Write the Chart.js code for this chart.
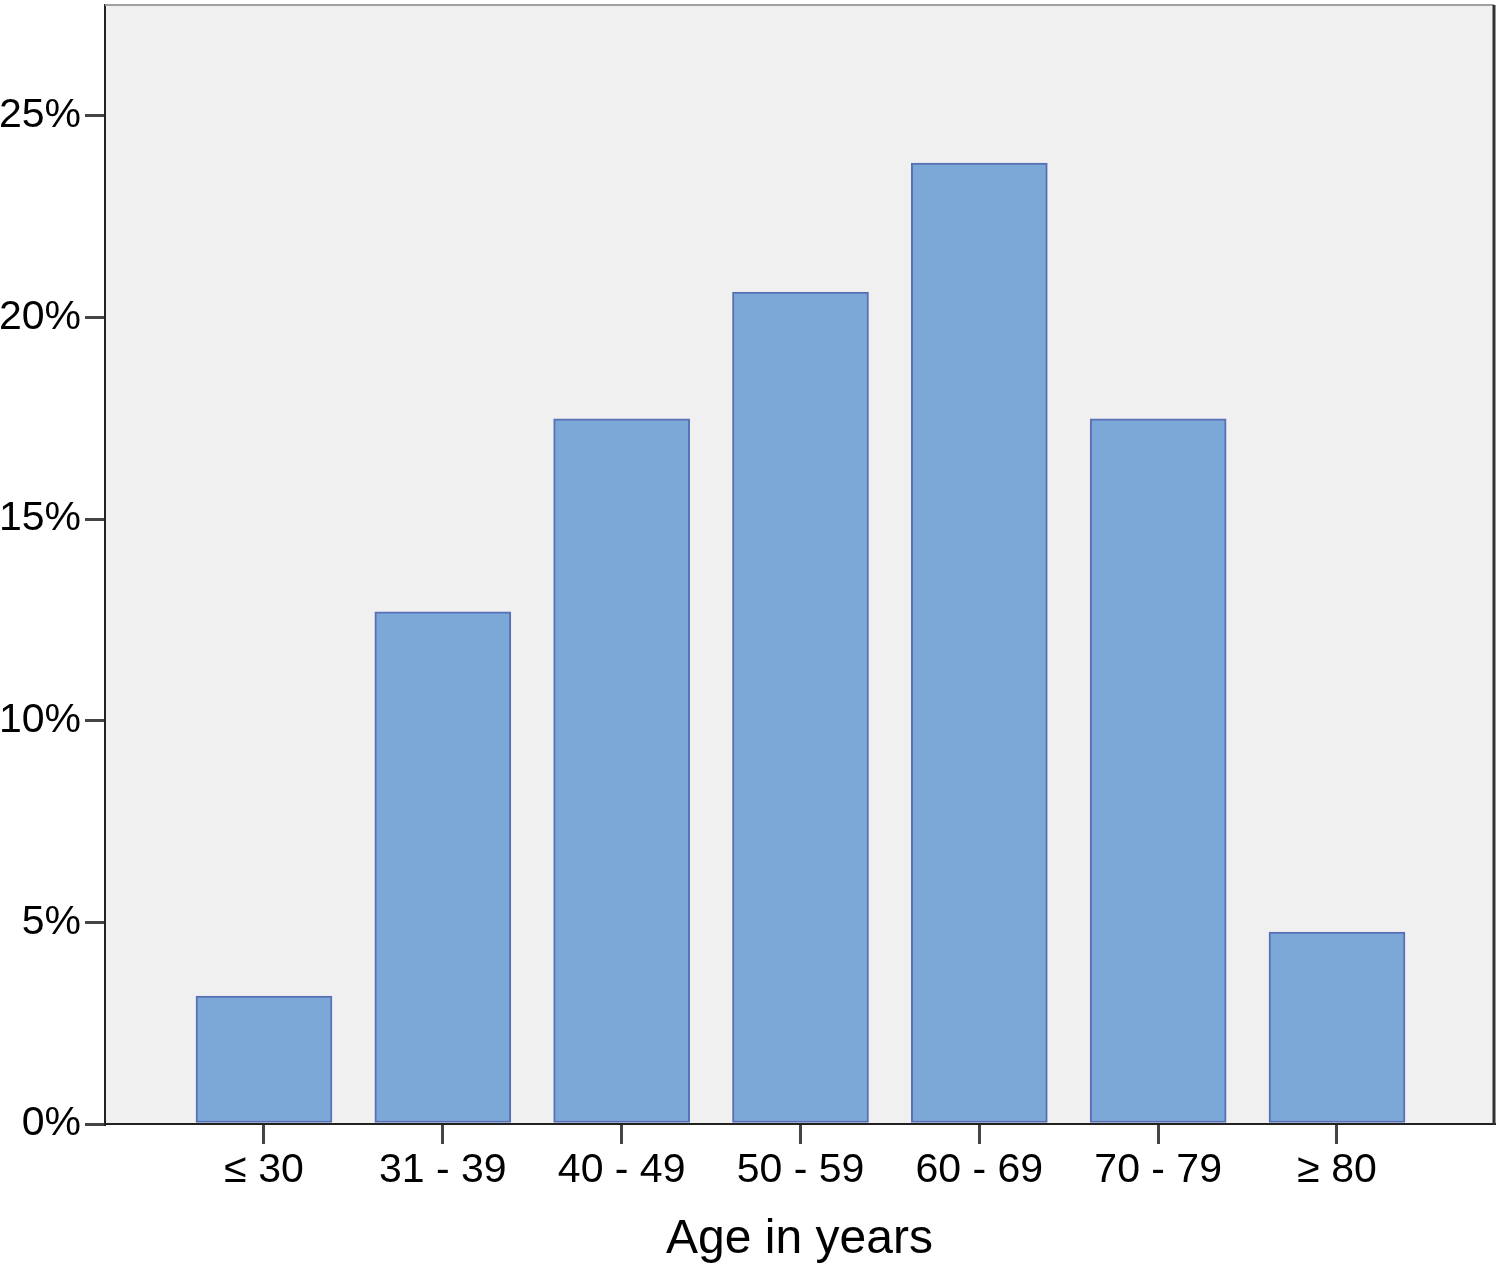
<!DOCTYPE html>
<html>
<head>
<meta charset="utf-8">
<script src="https://cdn.jsdelivr.net/npm/chart.js@4/dist/chart.umd.min.js"></script>
<style>
  html, body { margin: 0; padding: 0; background: #ffffff; }
  #wrap { width: 1502px; height: 1281px; }
</style>
</head>
<body>
<div id="wrap"><canvas id="c" width="1502" height="1281"></canvas></div>
<script>
const categories = ['≤ 30', '31 - 39', '40 - 49', '50 - 59', '60 - 69', '70 - 79', '≥ 80'];
const percentValues = [3.17, 12.70, 17.49, 20.63, 23.83, 17.49, 4.76];
const yTickValues = [0, 5, 10, 15, 20, 25];
const xAxisTitle = 'Age in years';

const FONT = '"Liberation Sans", Arial, Helvetica, sans-serif';

const plotFrame = {
  id: 'plotFrame',
  beforeDraw(chart) {
    const { ctx, chartArea: a } = chart;
    ctx.save();
    ctx.fillStyle = '#f0f0f0';
    ctx.fillRect(a.left, a.top, a.right - a.left, a.bottom - a.top);
    ctx.restore();
  },
  afterDraw(chart) {
    const { ctx, chartArea: a } = chart;
    ctx.save();
    ctx.strokeStyle = '#a0a0a0';
    ctx.lineWidth = 2;
    ctx.beginPath();
    ctx.moveTo(a.left, a.top);
    ctx.lineTo(a.right, a.top);
    ctx.stroke();
    ctx.strokeStyle = '#333333';
    ctx.lineWidth = 3;
    ctx.beginPath();
    ctx.moveTo(a.right, a.top);
    ctx.lineTo(a.right, a.bottom);
    ctx.stroke();
    ctx.restore();
  }
};

new Chart(document.getElementById('c'), {
  type: 'bar',
  data: {
    datasets: [{
      data: percentValues.map((v, i) => ({ x: i, y: v })),
      backgroundColor: '#7ba8d6',
      borderColor: '#5870b6',
      borderWidth: 2,
      borderSkipped: false,
      barThickness: 136
    }]
  },
  options: {
    responsive: false,
    animation: false,
    layout: { padding: { top: 5, right: 8, left: 0, bottom: 0 } },
    plugins: { legend: { display: false }, tooltip: { enabled: false } },
    scales: {
      x: {
        type: 'linear',
        min: -0.889,
        max: 6.878,
        offset: false,
        afterFit(scale) { scale.height = 157; scale.paddingLeft = 0; scale.paddingRight = 0; },
        afterBuildTicks(scale) { scale.ticks = categories.map((c, i) => ({ value: i })); },
        grid: { offset: false, drawOnChartArea: false, drawTicks: true, tickLength: 20, color: '#444444', lineWidth: 3 },
        border: { display: true, color: '#222222', width: 2 },
        ticks: {
          autoSkip: false,
          maxRotation: 0,
          padding: 2,
          color: '#000000',
          font: { family: FONT, size: 41 },
          callback: (v) => categories[v] ?? ''
        },
        title: {
          display: true,
          text: xAxisTitle,
          color: '#000000',
          font: { family: FONT, size: 48 },
          padding: { top: 0, bottom: 12 }
        }
      },
      y: {
        min: 0,
        max: 27.75,
        afterFit(scale) { scale.width = 105; scale.paddingTop = 0; scale.paddingBottom = 0; },
        afterBuildTicks(scale) { scale.ticks = yTickValues.map(v => ({ value: v })); },
        grid: { drawOnChartArea: false, drawTicks: true, tickLength: 20, color: '#444444', lineWidth: 3 },
        border: { display: true, color: '#222222', width: 2 },
        ticks: {
          padding: 4,
          color: '#000000',
          font: { family: FONT, size: 41 },
          callback: (v) => v + '%'
        }
      }
    }
  },
  plugins: [plotFrame]
});
</script>
</body>
</html>
